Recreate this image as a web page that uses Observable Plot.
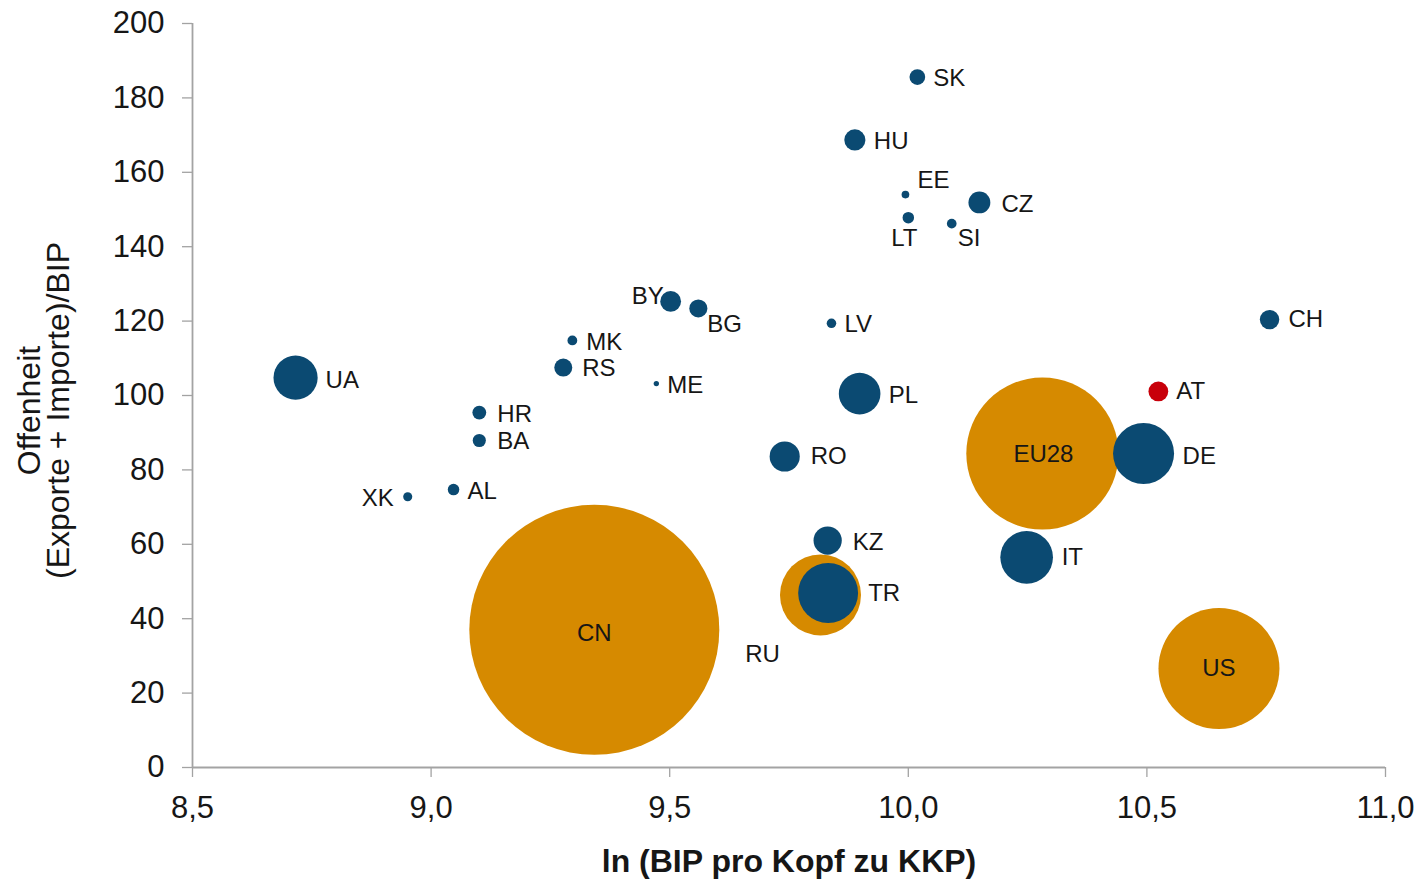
<!DOCTYPE html>
<html>
<head>
<meta charset="utf-8">
<script src="https://cdn.jsdelivr.net/npm/d3@7"></script>
<script src="https://cdn.jsdelivr.net/npm/@observablehq/plot@0.6"></script>
<style>
  html, body { margin: 0; padding: 0; background: #fff; }
  #chart svg { display: block; }
</style>
</head>
<body>
<div id="chart"></div>
<script>
// Country codes
const codes = ["CN","EU28","US","RU","TR","DE","IT","UA","PL","RO","KZ","CZ","HU","BY","BG","RS","CH","AT","SK","HR","BA","AL","XK","MK","ME","EE","LT","LV","SI"];
// ln (BIP pro Kopf zu KKP)
const lnGdpPerCapita = [9.342,10.281,10.651,9.816,9.832,10.493,10.248,8.716,9.898,9.741,9.831,10.149,9.888,9.502,9.560,9.277,10.757,10.524,10.019,9.101,9.101,9.047,8.951,9.296,9.472,9.994,10.000,9.839,10.091];
// Offenheit (Exporte + Importe)/BIP
const openness = [37.0,84.4,26.6,46.4,46.9,84.4,56.5,104.8,100.5,83.6,61.0,151.9,168.7,125.3,123.4,107.5,120.4,101.1,185.6,95.4,87.9,74.7,72.8,114.8,103.2,154.0,147.8,119.4,146.2];
// Bevölkerung (Mio.) – Blasengröße
const population = [1371,508,321,144,78.7,81.7,60.8,42.8,38.0,19.9,17.5,10.5,9.8,9.5,7.2,7.1,8.3,8.6,5.4,4.2,3.8,2.9,1.8,2.1,0.62,1.3,2.9,2.0,2.06];
// Gruppe
const groups = ["Vergleich","Vergleich","Vergleich","Vergleich","Land","Land","Land","Land","Land","Land","Land","Land","Land","Land","Land","Land","Land","Österreich","Land","Land","Land","Land","Land","Land","Land","Land","Land","Land","Land"];
const groupDomain = ["Vergleich","Land","Österreich"];
const groupColors = ["#d68a00","#0b4a72","#c8000a"];

const xTicks = [8.5, 9.0, 9.5, 10.0, 10.5, 11.0];
const yTicks = [0, 20, 40, 60, 80, 100, 120, 140, 160, 180, 200];

const xTitle = "ln (BIP pro Kopf zu KKP)";
const yTitle = "Offenheit\n(Exporte + Importe)/BIP";

// label placement (layout only): [dx, dy, textAnchor]
const labelPlacement = {
  CN: [0, 3, "middle"], EU28: [1, 1, "middle"], US: [0, 0, "middle"], RU: [-58, 59, "middle"],
  TR: [40, 0, "start"], DE: [39, 3, "start"], IT: [35, 0, "start"], UA: [30, 3, "start"],
  PL: [29, 2, "start"], RO: [26, 0, "start"], KZ: [25, 2, "start"], CZ: [22, 2, "start"],
  HU: [19, 1, "start"], BY: [-7, -5, "end"], BG: [9, 16, "start"], RS: [19, 1, "start"],
  CH: [19, 0, "start"], AT: [18, 0, "start"], SK: [16, 1, "start"], HR: [18, 2, "start"],
  BA: [18, 1, "start"], AL: [14, 2, "start"], XK: [-14, 2, "end"], MK: [14, 2, "start"],
  ME: [11, 2, "start"], EE: [12, -14, "start"], LT: [-4, 21, "middle"], LV: [13, 1, "start"],
  SI: [6, 15, "start"]
};

const rows = codes.map((c, i) => ({
  code: c, x: lnGdpPerCapita[i], y: openness[i], pop: population[i], group: groups[i]
}));

const fmt = d => d.toFixed(1).replace(".", ",");
const axisGray = "#a3a3a3";
const textColor = "#161616";

const labelMarks = rows.map(d => {
  const [dx, dy, anchor] = labelPlacement[d.code];
  return Plot.text([d], {
    x: "x", y: "y", text: "code", dx, dy, textAnchor: anchor,
    fontSize: 24, fill: textColor
  });
});

const chart = Plot.plot({
  width: 1420,
  height: 879,
  marginLeft: 192,
  marginRight: 35,
  marginTop: 23,
  marginBottom: 112,
  style: { fontFamily: "'Liberation Sans', Arial, sans-serif", background: "#fff", color: textColor },
  x: { domain: [8.5, 11.0], label: null },
  y: { domain: [0, 200], label: null },
  r: { type: "sqrt", domain: [0, 1371], range: [0, 125] },
  color: { domain: groupDomain, range: groupColors },
  marks: [
    Plot.ruleX([8.5], { stroke: axisGray, strokeWidth: 1.8 }),
    Plot.ruleY([0], { stroke: axisGray, strokeWidth: 1.8 }),
    Plot.axisY({ ticks: yTicks, tickSize: 10, tickPadding: 18, fontSize: 31, stroke: axisGray, strokeWidth: 1.3, fill: textColor, label: null }),
    Plot.axisX({ ticks: xTicks, tickFormat: fmt, tickSize: 10, tickPadding: 18, fontSize: 31, stroke: axisGray, strokeWidth: 1.3, fill: textColor, label: null }),
    Plot.dot(rows.filter(d => d.group === "Vergleich"), { x: "x", y: "y", r: "pop", fill: "group", stroke: null, sort: { channel: "-r" } }),
    Plot.dot(rows.filter(d => d.group !== "Vergleich"), { x: "x", y: "y", r: "pop", fill: "group", stroke: null, sort: { channel: "-r" } }),
    ...labelMarks,
    Plot.text([xTitle], { text: d => d, frameAnchor: "bottom", dy: 94, lineAnchor: "middle", textAnchor: "middle", fontSize: 32, fontWeight: "bold", fill: textColor }),
    Plot.text([yTitle], { text: d => d, frameAnchor: "left", rotate: -90, dx: -147, dy: 15, lineAnchor: "middle", textAnchor: "middle", fontSize: 32, lineHeight: 0.9, fill: textColor })
  ]
});

document.getElementById("chart").appendChild(chart);
</script>
</body>
</html>
